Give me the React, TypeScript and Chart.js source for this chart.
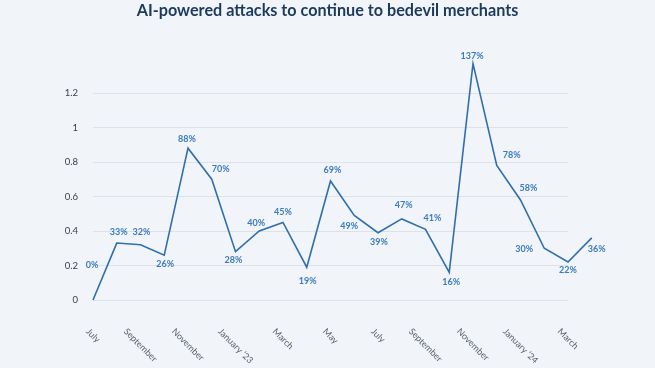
import React, { useEffect, useRef } from "react";
import { Chart, registerables } from "chart.js";

Chart.register(...registerables);

const titleText = "AI-powered attacks to continue to bedevil merchants";

const months = [
  "July", "August", "September", "October", "November", "December",
  "January \u201923", "February", "March", "April", "May", "June",
  "July", "August", "September", "October", "November", "December",
  "January \u201924", "February", "March", "April",
];

const values = [
  0, 0.33, 0.32, 0.26, 0.88, 0.7, 0.28, 0.4, 0.45, 0.19, 0.69,
  0.49, 0.39, 0.47, 0.41, 0.16, 1.37, 0.78, 0.58, 0.3, 0.22, 0.36,
];

const yTickValues = [0, 0.2, 0.4, 0.6, 0.8, 1, 1.2];

// last category index covered by the axis grid
const lastAxisIndex = 20;

// data-label offsets from each point (dx, dy), in px
const labelOffsets: [number, number][] = [
  [-1, -35], [2, -11], [1, -13], [1, 9], [-1, -9], [9, -10], [-2, 8],
  [-3, -8], [0, -10], [1, 14], [2, -11], [-5, 11], [1, 9], [2, -14],
  [7, -11], [2, 10], [-1, -8], [15, -10], [8, -12], [-20, 1], [0, 8],
  [5, 11],
];

const BG = "#f1f4f9";

export default function App() {
  const ref = useRef<HTMLCanvasElement | null>(null);

  useEffect(() => {
    document.body.style.margin = "0";
    document.body.style.background = BG;
    const canvas = ref.current;
    if (!canvas) return;

    const overlay = {
      id: "overlay",
      afterDraw(chart: any) {
        const ctx = chart.ctx as CanvasRenderingContext2D;
        const area = chart.chartArea;
        ctx.save();
        // title
        ctx.font = "bold 16.2px Lato";
        ctx.fillStyle = "#1b3a5c";
        ctx.textAlign = "center";
        ctx.textBaseline = "alphabetic";
        ctx.fillText(titleText, chart.width / 2, 16);

        // data labels
        const meta = chart.getDatasetMeta(0);
        ctx.font = "bold 9px Lato";
        ctx.fillStyle = "#3a7bbf";
        ctx.textAlign = "center";
        ctx.textBaseline = "middle";
        meta.data.forEach((pt: any, i: number) => {
          const off = labelOffsets[i] || [0, -10];
          ctx.fillText(Math.round(values[i] * 100) + "%", pt.x + off[0], pt.y + off[1]);
        });

        // x tick labels (rotated down-right)
        const xs = chart.scales.x;
        ctx.font = "9px Lato";
        ctx.fillStyle = "#5a6068";
        for (let i = 0; i < months.length && i <= lastAxisIndex; i += 2) {
          const x = xs.getPixelForValue(i);
          const w = ctx.measureText(months[i]).width;
          ctx.save();
          ctx.translate(x, area.bottom + 30 + w * 0.354);
          ctx.rotate(Math.PI / 4);
          ctx.fillText(months[i], 0, 0);
          ctx.restore();
        }
        ctx.restore();
      },
    };

    const chart = new Chart(canvas, {
      type: "line",
      data: {
        labels: months,
        datasets: [
          {
            data: values,
            borderColor: "#2f6fae",
            borderWidth: 1.6,
            pointRadius: 0,
            pointHoverRadius: 0,
            tension: 0,
            fill: false,
            clip: false as any,
          },
        ],
      },
      options: {
        responsive: false,
        animation: false,
        layout: { padding: { top: 93, right: 87, bottom: 68, left: 0 } },
        plugins: {
          legend: { display: false },
          title: { display: false },
          tooltip: { enabled: false },
        },
        scales: {
          x: {
            type: "category",
            afterDataLimits: (s: any) => {
              s.max = lastAxisIndex;
            },
            grid: { display: false, drawTicks: false },
            border: { display: false },
            ticks: { display: false },
          },
          y: {
            min: 0,
            max: 1.2,
            afterFit: (s: any) => {
              s.width = 93;
            },
            afterBuildTicks: (s: any) => {
              s.ticks = yTickValues.map((v) => ({ value: v }));
            },
            grid: { color: "#dde1e8", lineWidth: 1, drawTicks: false },
            border: { display: false },
            ticks: {
              padding: 15,
              color: "#3a3f45",
              font: { family: "Lato", size: 9.5 },
              callback: (v: any) => String(Number(Number(v).toFixed(1))),
            },
          },
        },
      },
      plugins: [overlay],
    });

    return () => chart.destroy();
  }, []);

  return (
    <div style={{ position: "fixed", left: 0, top: 0, width: 655, height: 368, background: BG }}>
      <canvas ref={ref} width={655} height={368} style={{ display: "block" }} />
    </div>
  );
}
